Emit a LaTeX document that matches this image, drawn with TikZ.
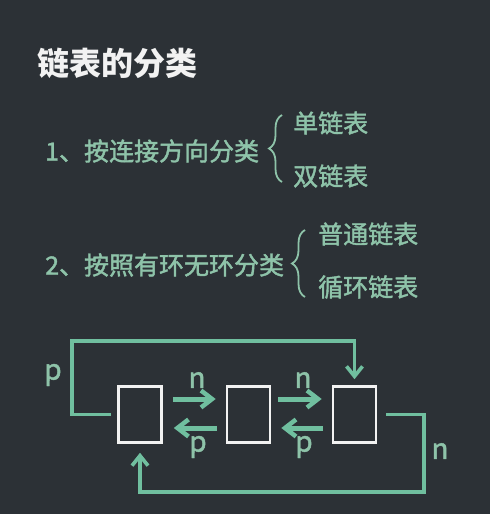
\documentclass[tikz,border=0pt]{standalone}
\usepackage{fontspec}
\setmainfont{Noto Sans CJK SC}
\newfontfamily\medfont[FakeBold=1.6]{Noto Sans CJK SC}
\usetikzlibrary{arrows.meta,decorations.pathreplacing}
\definecolor{bg}{HTML}{2C3136}
\definecolor{txtgreen}{HTML}{8EC3A9}
\definecolor{lngreen}{HTML}{70BF9F}
\definecolor{boxwhite}{HTML}{F2F2F2}
\tikzset{
  nodebox/.style={draw=boxwhite, line width=2.6pt, minimum width=43pt, minimum height=56pt, inner sep=0pt},
  fatarrow/.style={draw=lngreen, line width=5pt, -{Straight Barb[length=11pt,width=17pt,line width=4.5pt]}},
  looparrow/.style={draw=lngreen, line width=3.8pt, -{Straight Barb[length=10pt,width=16pt,line width=3.6pt]}},
  lbl/.style={text=txtgreen, font=\medfont\fontsize{28}{30}\selectfont, inner sep=0pt},
  item/.style={text=txtgreen, font=\medfont\fontsize{25}{28}\selectfont, inner sep=0pt, anchor=west},
  bracelbl/.style={draw=txtgreen, line width=1.8pt, decorate, decoration={brace, amplitude=13pt}}
}
\begin{document}
\begin{tikzpicture}[x=1pt,y=-1pt]
\fill[bg] (0,0) rectangle (490,514);
\useasboundingbox (0,0) rectangle (490,514);
% title
\node[text=boxwhite, font=\fontsize{32}{34}\selectfont\bfseries, inner sep=0pt, anchor=west] (title) at (37,63) {链表的分类};
% classification 1
\node[item] (c1) at (45,151) {1、按连接方向分类};
\node[item] (c1a) at (293,123) {单链表};
\node[item] (c1b) at (293,176) {双链表};
\coordinate (br1b) at (282,182);
\coordinate (br1t) at (282,115);
\draw[bracelbl] (br1b) -- (br1t);
% classification 2
\node[item] (c2) at (45,265) {2、按照有环无环分类};
\node[item] (c2a) at (318,234) {普通链表};
\node[item] (c2b) at (318,287) {循环链表};
\coordinate (br2b) at (305,297);
\coordinate (br2t) at (305,230);
\draw[bracelbl] (br2b) -- (br2t);
% list nodes
\node[nodebox] (b1) at (140,414.5) {};
\node[nodebox] (b2) at (248.5,414.5) {};
\node[nodebox] (b3) at (354.5,414.5) {};
% forward/back arrows
\draw[fatarrow, shorten <=10pt, shorten >=10pt] ([yshift=15.5pt]b1.east) -- ([yshift=15.5pt]b2.west);
\draw[fatarrow, shorten <=9pt, shorten >=11pt] ([yshift=-13.5pt]b2.west) -- ([yshift=-13.5pt]b1.east);
\draw[fatarrow, shorten <=7pt, shorten >=10pt] ([yshift=15.5pt]b2.east) -- ([yshift=15.5pt]b3.west);
\draw[fatarrow, shorten <=9pt, shorten >=10pt] ([yshift=-13.5pt]b3.west) -- ([yshift=-13.5pt]b2.east);
\node[lbl] (n1) at (197,380) {n};
\node[lbl] (p1) at (198,447) {p};
\node[lbl] (n2) at (303,380) {n};
\node[lbl] (p2) at (304,447) {p};
% loops
\coordinate (tl) at (72,341);
\coordinate (brc) at (424,492);
\draw[looparrow] ([xshift=-6pt]b1.west) -| (tl) -| ([yshift=6pt]b3.north);
\draw[looparrow] ([xshift=9pt]b3.east) -| (brc) -| ([yshift=-9pt]b1.south);
\node[lbl] (pl) at (53,375) {p};
\node[lbl] (nl) at (440,451) {n};
\end{tikzpicture}
\end{document}
